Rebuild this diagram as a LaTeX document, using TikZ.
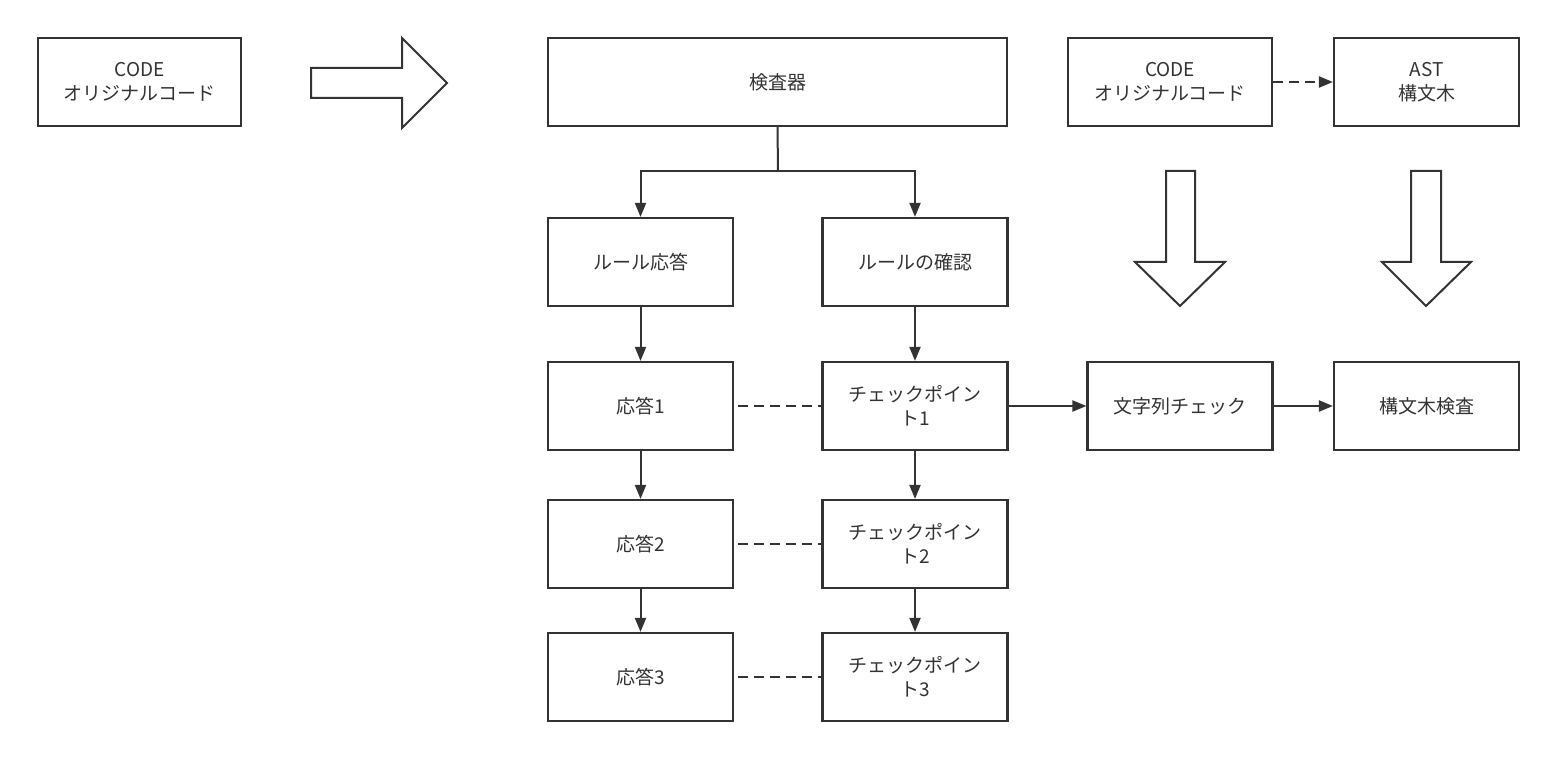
\documentclass[tikz,border=0pt]{standalone}
\usepackage{fontspec}
\setmainfont{Noto Sans CJK JP}
\usetikzlibrary{arrows.meta}
\definecolor{ln}{HTML}{333333}
\begin{document}
\begin{tikzpicture}[x=1pt,y=-1pt,
  bx/.style={draw=ln,line width=2.2pt,minimum width=#1,minimum height=88pt,inner sep=0pt,align=center,font=\fontsize{19}{24}\selectfont,text=ln},
  bx/.default=185pt,
  ar/.style={draw=ln,line width=2pt,-{Triangle[length=14pt,width=11pt]}},
  dl/.style={draw=ln,line width=2pt,dash pattern=on 10pt off 6pt}]
\fill[white] (0,0) rectangle (1557,759);
\useasboundingbox (0,0) rectangle (1557,759);
\node[bx=203pt] (c1) at (139.5,82) {CODE\\オリジナルコード};
\draw[ln,line width=2pt] (311,68) -- (402,68) -- (402,38) -- (447,83) -- (402,128) -- (402,98) -- (311,98) -- cycle;
\node[bx=459pt] (k) at (777.5,82) {検査器};
\node[bx=204pt] (c2) at (1170,82) {CODE\\オリジナルコード};
\node[bx] (ast) at (1426.5,82) {AST\\構文木};
\draw[ar,dash pattern=on 10pt off 6pt] (c2) -- (ast);
\node[bx] (r1) at (640.5,262) {ルール応答};
\node[bx] (r2) at (915,262) {ルールの確認};
\coordinate (kb) at (778,171);
\draw[ln,line width=2pt] (k.south) -- (kb);
\draw[ar] (kb) -| (r1.north);
\draw[ar] (kb) -| (r2.north);
\node[bx] (a1) at (640.5,406) {応答1};
\node[bx] (a2) at (640.5,544) {応答2};
\node[bx] (a3) at (640.5,677) {応答3};
\node[bx] (p1) at (915,406) {チェックポイン\\ト1};
\node[bx] (p2) at (915,544) {チェックポイン\\ト2};
\node[bx] (p3) at (915,677) {チェックポイン\\ト3};
\node[bx] (s) at (1180,406) {文字列チェック};
\node[bx] (t) at (1426.5,406) {構文木検査};
\draw[ar] (r1) -- (a1); \draw[ar] (a1) -- (a2); \draw[ar] (a2) -- (a3);
\draw[ar] (r2) -- (p1); \draw[ar] (p1) -- (p2); \draw[ar] (p2) -- (p3);
\draw[dl] ([xshift=4pt]a1.east) -- (p1.west);
\draw[dl] ([xshift=4pt]a2.east) -- (p2.west);
\draw[dl] ([xshift=4pt]a3.east) -- (p3.west);
\draw[ar] (p1) -- (s); \draw[ar] (s) -- (t);
\draw[ln,line width=2pt] (1166,171) -- (1195,171) -- (1195,262) -- (1225,262) -- (1180,306) -- (1135,262) -- (1166,262) -- cycle;
\draw[ln,line width=2pt] (1411,171) -- (1441,171) -- (1441,262) -- (1471,262) -- (1426,306) -- (1382,262) -- (1411,262) -- cycle;
\end{tikzpicture}
\end{document}
